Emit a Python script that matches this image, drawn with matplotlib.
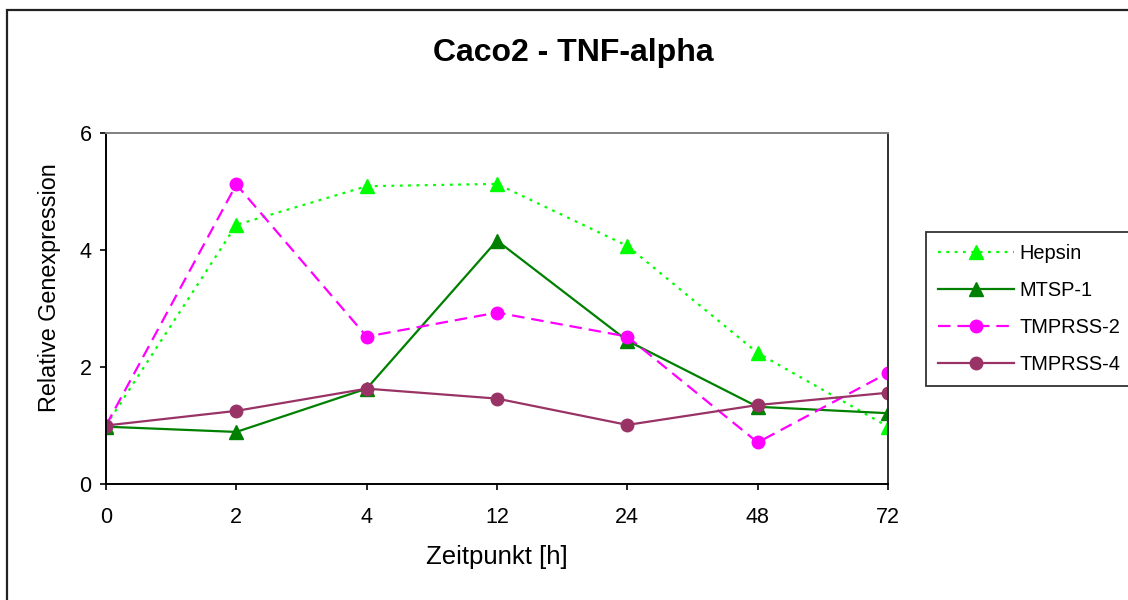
import matplotlib as mpl
import matplotlib.pyplot as plt
from matplotlib.patches import Rectangle

# time points (h) and relative expression per gene
timepoints = ["0", "2", "4", "12", "24", "48", "72"]
hepsin = [1.0, 4.43, 5.09, 5.13, 4.07, 2.24, 0.98]
mtsp1 = [0.98, 0.89, 1.63, 4.16, 2.45, 1.32, 1.21]
tmprss2 = [1.0, 5.12, 2.52, 2.93, 2.52, 0.71, 1.90]
tmprss4 = [1.0, 1.25, 1.63, 1.46, 1.01, 1.35, 1.56]

mpl.rcParams["font.family"] = ["Liberation Sans", "DejaVu Sans"]
mpl.rcParams["lines.scale_dashes"] = False

fig = plt.figure(figsize=(11.28, 6), dpi=100)
ax = fig.add_axes([106 / 1128, 1 - 484 / 600, (888 - 106) / 1128, (484 - 133) / 600])

x = list(range(len(timepoints)))
ax.plot(x, hepsin, color="#00ff00", lw=1.6, dashes=(2, 4), marker="^", ms=10.5, label="Hepsin")
ax.plot(x, mtsp1, color="#008000", lw=1.6, marker="^", ms=10.5, label="MTSP-1")
ax.plot(x, tmprss2, color="#ff00ff", lw=1.6, dashes=(9, 5), marker="o", ms=9, label="TMPRSS-2")
ax.plot(x, tmprss4, color="#993366", lw=1.6, marker="o", ms=9, label="TMPRSS-4")

ax.set_xlim(0, 6)
ax.set_ylim(0, 6)
ax.set_xticks(x)
ax.set_xticklabels(timepoints)
ax.set_yticks([0, 2, 4, 6])
ax.tick_params(axis="both", labelsize=15.5, direction="out", length=4.5, width=1.2, color="black")
ax.tick_params(axis="x", pad=12)
ax.tick_params(axis="y", pad=6)
ax.spines["left"].set_linewidth(1.4)
ax.spines["bottom"].set_linewidth(1.4)
ax.spines["top"].set_color("#808080")
ax.spines["top"].set_linewidth(1.4)
ax.spines["right"].set_color("#303030")
ax.spines["right"].set_linewidth(1.4)

fig.text(573 / 1128, 1 - 53 / 600, "Caco2 - TNF-alpha", fontsize=23, fontweight="bold",
         ha="center", va="center")
fig.text(50 / 1128, 1 - 288 / 600, "Relative Genexpression", fontsize=16.8, rotation=90,
         ha="center", va="center")
fig.text(497 / 1128, 1 - 557 / 600, "Zeitpunkt [h]", fontsize=18.5, ha="center", va="center")

leg = fig.legend(loc="upper left", bbox_to_anchor=(926 / 1128, 1 - 232 / 600), fontsize=14.4,
                 frameon=True, fancybox=False, handlelength=3.8, handletextpad=0.25,
                 labelspacing=0.9, borderpad=0.6, borderaxespad=0)
leg.get_frame().set_edgecolor("black")
leg.get_frame().set_linewidth(1.3)

# outer chart border
fig.add_artist(Rectangle((7 / 1128, -0.05), 1.1, 1 - 10 / 600 + 0.05, transform=fig.transFigure,
                         fill=False, edgecolor="#222222", lw=1.6))

fig.savefig("out.png", dpi=100)
